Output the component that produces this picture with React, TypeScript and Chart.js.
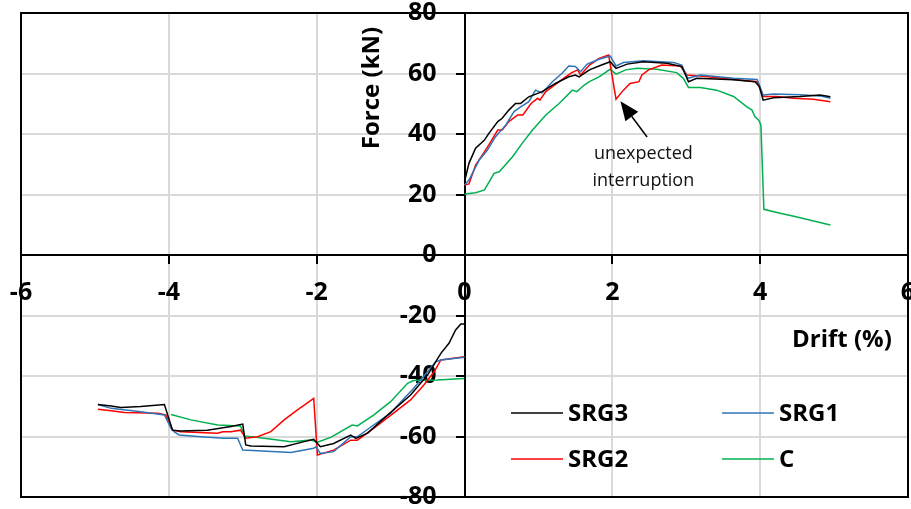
import React, { useEffect, useRef } from "react";
import { Chart, registerables } from "chart.js";

Chart.register(...registerables);

// ---- Data (drift %, force kN) ----
const SERIES_LABELS = ["SRG3", "SRG1", "SRG2", "C"];
const SERIES_COLORS = ["#000000", "#2E75B6", "#FF0000", "#00B050"];

const X_TICKS = [-6, -4, -2, 0, 2, 4, 6];
const Y_TICKS = [-80, -60, -40, -20, 0, 20, 40, 60, 80];

const SRG3_NEG: [number, number][] = [
  [-4.96, -49.4], [-4.78, -49.9], [-4.65, -50.4], [-4.38, -50.1], [-4.06, -49.4],
  [-3.95, -57.9], [-3.84, -58.2], [-3.48, -57.9], [-3.16, -56.7], [-3.0, -55.9],
  [-2.96, -62.8], [-2.89, -63.1], [-2.44, -63.4], [-2.17, -61.7], [-2.04, -60.9],
  [-1.95, -63.4], [-1.77, -62.3], [-1.54, -59.5], [-1.47, -60.6], [-1.31, -58.9],
  [-1.14, -55.1], [-0.96, -51.2], [-0.73, -46.3], [-0.5, -39.7], [-0.32, -32.5],
  [-0.21, -29.2], [-0.12, -24.8], [-0.05, -22.8], [0, -22.8],
];
const SRG3_POS: [number, number][] = [
  [0, 24.2], [0.06, 30.3], [0.15, 35.3], [0.27, 38], [0.33, 40.2], [0.45, 44.1],
  [0.51, 45.2], [0.6, 47.9], [0.69, 50.1], [0.76, 50.1], [0.87, 52.3], [1.05, 54],
  [1.23, 56.7], [1.41, 58.9], [1.5, 59.5], [1.55, 58.9], [1.69, 61.2], [1.82, 62.5],
  [1.97, 63.9], [2.05, 61.7], [2.2, 63.1], [2.42, 63.9], [2.74, 63.4], [2.94, 62.3],
  [2.99, 59.5], [3.03, 57.3], [3.14, 58.4], [3.64, 57.9], [3.93, 57.3], [3.99, 55.7],
  [4.04, 51.2], [4.18, 52], [4.54, 52.4], [4.81, 52.9], [4.95, 52.3],
];

const SRG1_NEG: [number, number][] = [
  [-4.96, -49.4], [-4.78, -50.7], [-4.38, -51.8], [-4.06, -52.9], [-3.97, -57.3],
  [-3.93, -58.4], [-3.86, -59.5], [-3.57, -60.1], [-3.25, -60.6], [-3.07, -60.6],
  [-3.0, -64.5], [-2.8, -64.7], [-2.35, -65.3], [-2.04, -63.9], [-2.01, -63.4],
  [-1.95, -65.6], [-1.77, -65], [-1.54, -60.1], [-1.45, -60.1], [-1.23, -56.2],
  [-1.0, -52.3], [-0.86, -48.5], [-0.69, -44.1], [-0.5, -38.6], [-0.39, -35.3],
  [-0.32, -34.7], [0, -33.8],
];
const SRG1_POS: [number, number][] = [
  [0, 23.1], [0.06, 24.8], [0.2, 31.4], [0.31, 34.7], [0.42, 39.1], [0.56, 43],
  [0.67, 47.4], [0.76, 49], [0.87, 50.7], [0.96, 54.5], [1.05, 53.6], [1.19, 57.3],
  [1.32, 60.1], [1.41, 62.5], [1.5, 62.3], [1.57, 60.6], [1.66, 63.1], [1.82, 64.7],
  [1.97, 65.8], [2.05, 62.5], [2.15, 63.6], [2.42, 64.2], [2.83, 63.6], [2.94, 62.8],
  [3.02, 58.4], [3.19, 59.5], [3.64, 58.4], [3.96, 58], [4.04, 52.9], [4.18, 53.2],
  [4.54, 53], [4.81, 52.6], [4.95, 51.8],
];

const SRG2_NEG: [number, number][] = [
  [-4.96, -51], [-4.78, -51.5], [-4.6, -52.1], [-4.15, -52.3], [-4.04, -52.9],
  [-3.95, -57.9], [-3.84, -58.4], [-3.34, -58.9], [-3.27, -58.4], [-3.16, -58.4],
  [-3.03, -57.9], [-2.96, -60.6], [-2.8, -60.1], [-2.62, -58.4], [-2.44, -54.5],
  [-2.26, -51.2], [-2.04, -47.4], [-1.99, -66.1], [-1.77, -64.5], [-1.54, -61.2],
  [-1.45, -61.2], [-1.23, -57.3], [-0.96, -52.3], [-0.73, -47.9], [-0.55, -43],
  [-0.41, -38.6], [-0.32, -34.7], [0, -33.6],
];
const SRG2_POS: [number, number][] = [
  [0, 23.1], [0.06, 23.5], [0.15, 29.7], [0.24, 33], [0.33, 36.4], [0.45, 41.3],
  [0.51, 41.3], [0.6, 44.1], [0.72, 46.3], [0.79, 46.3], [0.9, 50.1], [0.99, 51.8],
  [1.02, 51.2], [1.1, 54], [1.28, 57.3], [1.44, 60.1], [1.53, 61.2], [1.57, 59.5],
  [1.69, 62.8], [1.82, 65], [1.95, 66.1], [2.05, 51.5], [2.15, 54.5], [2.24, 56.7],
  [2.36, 57.3], [2.4, 59.5], [2.49, 61.2], [2.67, 62.8], [2.92, 62.5], [3.01, 59.5],
  [3.19, 59.2], [3.64, 58], [3.96, 57.3], [4.04, 52.4], [4.22, 52.4], [4.45, 51.8],
  [4.72, 51.5], [4.95, 50.7],
];

const C_NEG: [number, number][] = [
  [-3.97, -52.7], [-3.7, -54.5], [-3.34, -56.2], [-3.03, -56.5], [-2.98, -59.8],
  [-2.71, -60.6], [-2.35, -61.7], [-2.08, -61.2], [-1.99, -61.9], [-1.81, -60.3],
  [-1.52, -56.2], [-1.45, -56.5], [-1.23, -52.9], [-1.0, -48.5], [-0.77, -42.4],
  [-0.69, -41.5], [-0.37, -41.3], [0, -40.8],
];
const C_POS: [number, number][] = [
  [0, 20.2], [0.15, 20.6], [0.27, 21.5], [0.4, 27], [0.47, 27.5], [0.65, 32.5],
  [0.78, 36.9], [0.92, 41.3], [1.1, 46.3], [1.28, 50.1], [1.46, 54.5], [1.52, 54],
  [1.62, 56.2], [1.69, 57.3], [1.82, 58.9], [1.97, 61.4], [2.05, 59.8], [2.18, 61.2],
  [2.33, 61.7], [2.6, 61.4], [2.87, 60.3], [2.96, 58.4], [3.03, 55.4], [3.19, 55.4],
  [3.41, 54.5], [3.64, 52.4], [3.82, 49], [3.89, 47.9], [3.93, 45.7], [3.98, 44.6],
  [4.01, 43], [4.05, 15.1], [4.27, 13.8], [4.47, 12.7], [4.95, 9.9],
];

const BRANCHES: [number, number][][][] = [
  [SRG3_NEG, SRG3_POS],
  [SRG1_NEG, SRG1_POS],
  [SRG2_NEG, SRG2_POS],
  [C_NEG, C_POS],
];

const ANNOTATION_LINES = ["unexpected", "interruption"];
const X_TITLE = "Drift (%)";
const Y_TITLE = "Force (kN)";

const FONT = "'Open Sans', 'Liberation Sans', sans-serif";
const Y_LABEL_GAP = 28;

function toPoints(neg: [number, number][], pos: [number, number][]) {
  const pts: { x: number; y: number | null }[] = neg.map(([x, y]) => ({ x, y }));
  pts.push({ x: 0, y: null });
  pos.forEach(([x, y]) => pts.push({ x, y }));
  return pts;
}

const overlayPlugin = {
  id: "overlay",
  beforeDraw(chart: any) {
    // y tick labels sit left of the centred axis, clear of the tick marks
    const s = chart.scales.y;
    const items = s.getLabelItems(chart.chartArea);
    items.forEach((it: any) => {
      if (!it._shifted) {
        it.options.translation[0] -= Y_LABEL_GAP;
        it._shifted = true;
      }
    });
  },
  beforeDatasetsDraw(chart: any) {
    const { ctx, chartArea } = chart;
    ctx.save();
    ctx.strokeStyle = "#000";
    ctx.lineWidth = 2;
    ctx.strokeRect(chartArea.left, chartArea.top, chartArea.right - chartArea.left, chartArea.bottom - chartArea.top);
    ctx.restore();
  },
  afterDraw(chart: any) {
    const { ctx, chartArea, scales } = chart;
    const L = chartArea.left;
    const T = chartArea.top;
    ctx.save();
    // Axis titles
    ctx.fillStyle = "#000";
    ctx.font = `bold 24px ${FONT}`;
    ctx.textBaseline = "middle";
    ctx.textAlign = "left";
    ctx.fillText(X_TITLE, L + 771, T + 327);
    ctx.save();
    ctx.translate(L + 351, T + 75);
    ctx.rotate(-Math.PI / 2);
    ctx.textAlign = "center";
    ctx.fillText(Y_TITLE, 0, 0);
    ctx.restore();

    // Legend (2 x 2)
    const datasets = chart.data.datasets;
    const cols = [L + 490, L + 701];
    const rows = [T + 400, T + 446];
    ctx.font = `bold 24px ${FONT}`;
    datasets.forEach((ds: any, i: number) => {
      const cx = cols[i % 2];
      const cy = rows[Math.floor(i / 2)];
      ctx.strokeStyle = ds.borderColor;
      ctx.lineWidth = 1.5;
      ctx.beginPath();
      ctx.moveTo(cx, cy);
      ctx.lineTo(cx + 52, cy);
      ctx.stroke();
      ctx.fillStyle = "#000";
      ctx.textAlign = "left";
      ctx.textBaseline = "middle";
      ctx.fillText(ds.label, cx + 57, cy + 1);
    });

    // Annotation text + arrow
    const xs = scales.x;
    const ys = scales.y;
    ctx.fillStyle = "#111";
    ctx.font = `18px ${FONT}`;
    ctx.textAlign = "center";
    ctx.textBaseline = "middle";
    const tx = xs.getPixelForValue(2.42);
    ctx.fillText(ANNOTATION_LINES[0], tx, ys.getPixelForValue(33.4));
    ctx.fillText(ANNOTATION_LINES[1], tx, ys.getPixelForValue(24.6));

    const x1 = xs.getPixelForValue(2.47), y1 = ys.getPixelForValue(39);
    const x2 = xs.getPixelForValue(2.11), y2 = ys.getPixelForValue(50.8);
    const ang = Math.atan2(y2 - y1, x2 - x1);
    const headLen = 19, headW = 8;
    const bx = x2 - headLen * Math.cos(ang), by = y2 - headLen * Math.sin(ang);
    ctx.strokeStyle = "#000";
    ctx.lineWidth = 1.5;
    ctx.beginPath();
    ctx.moveTo(x1, y1);
    ctx.lineTo(bx, by);
    ctx.stroke();
    ctx.fillStyle = "#000";
    ctx.beginPath();
    ctx.moveTo(x2, y2);
    ctx.lineTo(bx + headW * Math.sin(ang), by - headW * Math.cos(ang));
    ctx.lineTo(bx - headW * Math.sin(ang), by + headW * Math.cos(ang));
    ctx.closePath();
    ctx.fill();
    ctx.restore();
  },
};

export default function App() {
  const ref = useRef<HTMLCanvasElement | null>(null);
  useEffect(() => {
    if (!ref.current) return;
    const chart = new Chart(ref.current, {
      type: "scatter",
      data: {
        datasets: SERIES_LABELS.map((label, i) => ({
          label,
          data: toPoints(BRANCHES[i][0], BRANCHES[i][1]) as any,
          borderColor: SERIES_COLORS[i],
          backgroundColor: SERIES_COLORS[i],
          showLine: true,
          spanGaps: false,
          pointRadius: 0,
          borderWidth: 1.5,
          tension: 0,
        })),
      },
      options: {
        responsive: false,
        animation: false,
        devicePixelRatio: 1,
        layout: { padding: { left: 41, top: 33, right: 23, bottom: 32 } },
        plugins: { legend: { display: false }, tooltip: { enabled: false } },
        scales: {
          x: {
            type: "linear",
            position: { y: 0 } as any,
            min: -6,
            max: 6,
            afterBuildTicks: (s: any) => { s.ticks = X_TICKS.map((v) => ({ value: v })); },
            ticks: {
              font: { family: FONT, size: 25, weight: "bold" },
              color: "#000",
              padding: 15,
              maxRotation: 0,
              autoSkip: false,
            },
            grid: { color: "#d9d9d9", lineWidth: 2, tickColor: "#000", tickWidth: 2, tickLength: 8 },
            border: { color: "#000", width: 2 },
          },
          y: {
            type: "linear",
            position: { x: 0 } as any,
            min: -80,
            max: 80,
            afterBuildTicks: (s: any) => { s.ticks = Y_TICKS.map((v) => ({ value: v })); },
            ticks: {
              font: { family: FONT, size: 25, weight: "bold" },
              color: "#000",
              autoSkip: false,
            },
            grid: { color: "#d9d9d9", lineWidth: 2, tickColor: "#000", tickWidth: 2, tickLength: 8 },
            border: { color: "#000", width: 2 },
          },
        },
      },
      plugins: [overlayPlugin],
    });
    return () => chart.destroy();
  }, []);

  return (
    <div style={{ position: "fixed", left: 0, top: 0, width: 911, height: 509, overflow: "hidden", background: "#fff" }}>
      <canvas ref={ref} width={951} height={549} style={{ position: "absolute", left: -20, top: -20 }} />
    </div>
  );
}
